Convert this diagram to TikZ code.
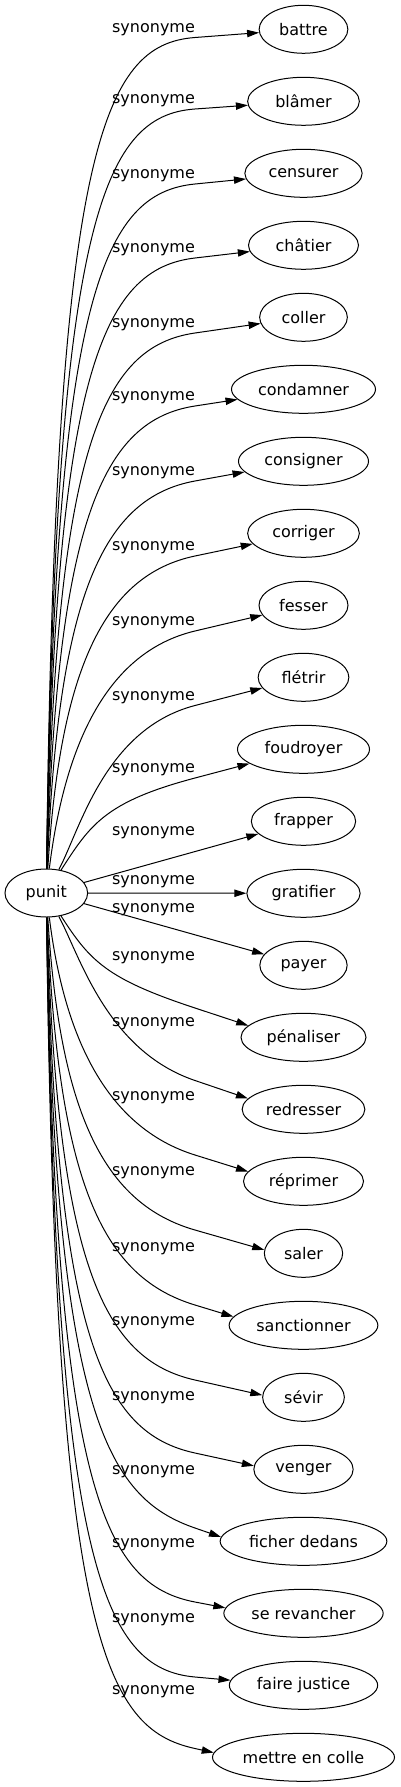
\documentclass[tikz,border=0pt]{standalone}
\usepackage{fontspec}
\setmainfont{DejaVu Sans}
\usetikzlibrary{arrows.meta,shapes.geometric,calc}

\begin{document}
\begin{tikzpicture}[x=0.75pt,y=-0.75pt,font=\fontsize{12}{14}\selectfont,
    word/.style={draw,ellipse,line width=0.75pt,minimum height=36pt,inner sep=0pt},
    rel/.style={inner sep=0pt},
    syn/.style={line width=0.75pt,-{Triangle[length=9pt,width=5.5pt]}}]
  \useasboundingbox (0,0) rectangle (400,1787);
  \node[word,minimum width=62pt] (punit) at (46.3,893) {punit};
  \foreach \n/\t/\w [count=\i from 0] in {battre/battre/88.7, blamer/blâmer/111.7,
      censurer/censurer/117.3, chatier/châtier/110, coller/coller/87.7,
      condamner/condamner/144, consigner/consigner/130, corriger/corriger/111.7,
      fesser/fesser/89, fletrir/flétrir/90.7, foudroyer/foudroyer/132,
      frapper/frapper/104.3, gratifier/gratifier/113.3, payer/payer/87.3,
      penaliser/pénaliser/125, redresser/redresser/122.7, reprimer/réprimer/120,
      saler/saler/78.3, sanctionner/sanctionner/148.7, sevir/sévir/81.7,
      venger/venger/99.3, ficher/ficher dedans/166.7, revancher/se revancher/159.3,
      justice/faire justice/148.3, colle/mettre en colle/182}
    \node[word,minimum width=\w*0.75pt] (\n) at (303.5,{29.3+72*\i}) {\t};
  % upper half
  \foreach \n/\ly/\ax/\ay in {battre/29.5/55/148, blamer/101/55/223,
      censurer/176/55/297, chatier/250/55/372, coller/325/56/445,
      condamner/398/57/520, consigner/473/58/595, corriger/548/60/670,
      fesser/623/64/750, fletrir/697.5/80/830, foudroyer/770/90/825}
  {
    \node[rel] (l-\n) at (153.5,\ly) {synonyme};
    \coordinate (m-\n) at (195,{\ly+8});
    \draw[syn] (punit) .. controls (\ax,\ay) and ($(m-\n)!-70pt!(\n)$) .. (m-\n) -- (\n);
  }
  \foreach \n/\ly in {frapper/833, gratifier/882, payer/910}
  {
    \node[rel] (l-\n) at (153.5,\ly) {synonyme};
    \draw[syn] (punit) -- (\n);
  }
  % lower half
  \foreach \n/\ly/\a/\ax/\ay/\my in {penaliser/958/168/90/961/1008,
      redresser/1024/169/80/956/1080.5, reprimer/1098/170/64/1036/1155,
      saler/1173/175/60/1116/1230, sanctionner/1249/173/58/1191/1305,
      sevir/1323/177/57/1266/1380, venger/1398/176/56/1341/1453,
      ficher/1472/177/55/1414/1528, revancher/1545/176/55/1489/1602,
      justice/1620/176/55/1563/1677, colle/1692/177/55/1638/1748.5}
  {
    \node[rel] (l-\n) at (153.5,\ly) {synonyme};
    \coordinate (m-\n) at (195,\my);
    \draw[syn] (punit) .. controls (\ax,\ay) and ($(m-\n)!-70pt!(\n.\a)$) .. (m-\n) -- (\n.\a);
  }
\end{tikzpicture}
\end{document}
